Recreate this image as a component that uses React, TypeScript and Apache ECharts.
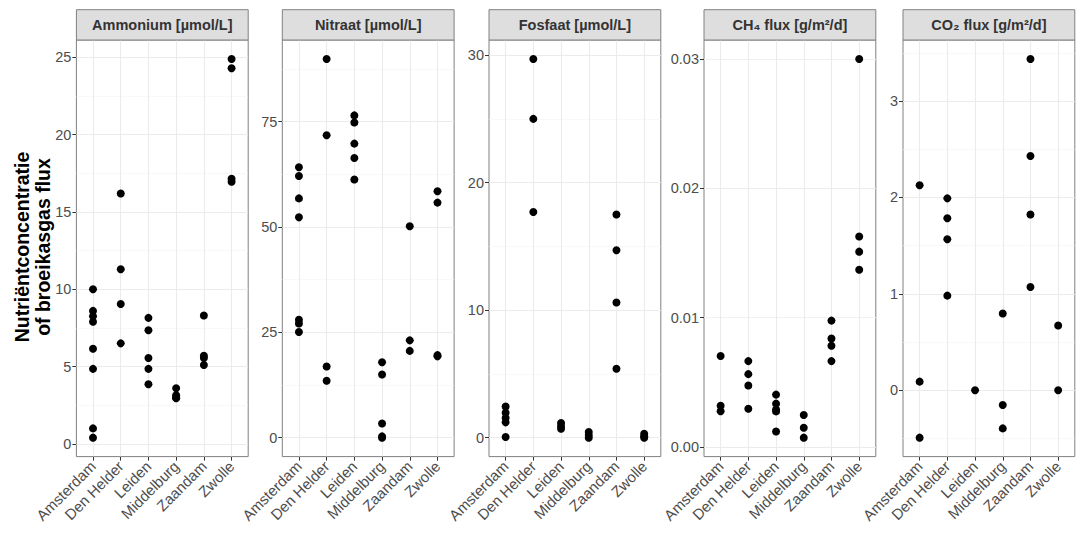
import React, { useEffect, useRef } from "react";
import * as echarts from "echarts";

const categories = ["Amsterdam", "Den Helder", "Leiden", "Middelburg", "Zaandam", "Zwolle"];

// values per category (same order as categories)
const ammonium = [
  [10.0, 8.6, 8.25, 7.9, 6.15, 4.85, 1.0, 0.4],
  [16.2, 11.3, 9.05, 6.5],
  [8.15, 7.35, 5.55, 4.85, 3.85],
  [3.6, 3.15, 3.0, 2.95],
  [8.3, 5.7, 5.55, 5.1],
  [24.9, 24.3, 17.15, 16.95],
];
const nitraat = [
  [64.2, 62.1, 56.8, 52.3, 28.0, 27.1, 25.1],
  [89.9, 71.8, 16.9, 13.5],
  [76.5, 74.8, 69.8, 66.4, 61.3],
  [17.9, 15.0, 3.35, 0.3, 0.0],
  [50.2, 23.1, 20.6],
  [58.5, 55.8, 19.6, 19.3],
];
const fosfaat = [
  [2.45, 1.95, 1.55, 1.2, 0.05],
  [29.7, 25.0, 17.7],
  [1.15, 0.9, 0.7],
  [0.45, 0.2, 0.0],
  [17.5, 14.7, 10.6, 5.4],
  [0.3, 0.12, 0.0],
];
const ch4 = [
  [0.00703, 0.00319, 0.00276],
  [0.00664, 0.00563, 0.00475, 0.00295],
  [0.00405, 0.00335, 0.0029, 0.00275, 0.0012],
  [0.00247, 0.00149, 0.00072],
  [0.00977, 0.00839, 0.00783, 0.00664],
  [0.03, 0.01627, 0.0151, 0.0137],
];
const co2 = [
  [2.126, 0.089, -0.492],
  [1.99, 1.784, 1.566, 0.981],
  [0.0],
  [0.796, -0.153, -0.396],
  [3.436, 2.43, 1.823, 1.07],
  [0.671, 0.0],
];

const titles = [
  "Ammonium [µmol/L]",
  "Nitraat [µmol/L]",
  "Fosfaat [µmol/L]",
  "CH₄ flux [g/m²/d]",
  "CO₂ flux [g/m²/d]",
];
const panelValues = [ammonium, nitraat, fosfaat, ch4, co2];
const majorTicks = [
  [0, 5, 10, 15, 20, 25],
  [0, 25, 50, 75],
  [0, 10, 20, 30],
  [0, 0.01, 0.02, 0.03],
  [0, 1, 2, 3],
];
const minorTicks = [
  [2.5, 7.5, 12.5, 17.5, 22.5],
  [12.5, 37.5, 62.5, 87.5],
  [5, 15, 25],
  [0.005, 0.015, 0.025],
  [-0.5, 0.5, 1.5, 2.5, 3.5],
];
const labelDecimals = [0, 0, 0, 2, 0];

const FONT = "'Liberation Sans', Arial, 'DejaVu Sans', sans-serif";

export default function App() {
  const ref = useRef<HTMLDivElement>(null);
  useEffect(() => {
    if (!ref.current) return;
    const chart = echarts.init(ref.current, undefined, { renderer: "svg" });

    const lefts = [76.4, 282.3, 489, 704, 903];
    const gw = 171.8;
    const top = 40;
    const gh = 416.6;
    const catIdx = categories.map((_, i) => i);

    const grids: any[] = [];
    const xAxes: any[] = [];
    const yAxes: any[] = [];
    const series: any[] = [];
    const graphics: any[] = [];

    panelValues.forEach((vals, p) => {
      const flat = vals.flat();
      const lo = Math.min(...flat);
      const hi = Math.max(...flat);
      const pad = (hi - lo) * 0.05;
      const yMin = lo - pad;
      const yMax = hi + pad;

      grids.push({
        left: lefts[p],
        top,
        width: gw,
        height: gh,
        show: true,
        borderColor: "#808080",
        borderWidth: 1,
        backgroundColor: "transparent",
      });
      xAxes.push({
        gridIndex: p,
        type: "value",
        min: -0.6,
        max: 5.6,
        axisLine: { show: false, onZero: false },
        splitLine: { show: false },
        axisTick: {
          show: true,
          customValues: catIdx,
          length: 4,
          lineStyle: { color: "#333333", width: 1 },
        },
        axisLabel: {
          customValues: catIdx,
          formatter: (v: number) => categories[Math.round(v)],
          rotate: 45,
          color: "#4D4D4D",
          fontSize: 15,
          fontFamily: FONT,
          margin: 7,
        },
      });
      yAxes.push({
        gridIndex: p,
        type: "value",
        min: yMin,
        max: yMax,
        axisLine: { show: false, onZero: false },
        splitLine: { show: false },
        axisTick: {
          show: true,
          customValues: majorTicks[p],
          length: 4,
          lineStyle: { color: "#333333", width: 1 },
        },
        axisLabel: {
          customValues: majorTicks[p],
          formatter: (v: number) => v.toFixed(labelDecimals[p]),
          color: "#4D4D4D",
          fontSize: 14.5,
          fontFamily: FONT,
          margin: 5,
        },
      });

      const gridLines: any[] = [];
      majorTicks[p].forEach((v) =>
        gridLines.push({ yAxis: v, lineStyle: { color: "#EBEBEB", width: 1.1, type: "solid" } })
      );
      minorTicks[p].forEach((v) =>
        gridLines.push({ yAxis: v, lineStyle: { color: "#F3F3F3", width: 0.6, type: "solid" } })
      );
      catIdx.forEach((v) =>
        gridLines.push({ xAxis: v, lineStyle: { color: "#EBEBEB", width: 1.1, type: "solid" } })
      );

      series.push({
        type: "scatter",
        xAxisIndex: p,
        yAxisIndex: p,
        data: [],
        z: 1,
        silent: true,
        markLine: {
          silent: true,
          symbol: ["none", "none"],
          label: { show: false },
          animation: false,
          data: gridLines,
        },
      });

      const pts: number[][] = [];
      vals.forEach((arr, i) => arr.forEach((v) => pts.push([i, v])));
      series.push({
        type: "scatter",
        xAxisIndex: p,
        yAxisIndex: p,
        data: pts,
        z: 5,
        symbol: "circle",
        symbolSize: 8,
        itemStyle: { color: "#000000", opacity: 1 },
        emphasis: { disabled: true },
      });

      graphics.push({
        type: "rect",
        shape: { x: lefts[p], y: 9.7, width: gw, height: 30.3 },
        style: { fill: "#DEDEDE", stroke: "#808080", lineWidth: 1 },
        z: 10,
      });
      graphics.push({
        type: "text",
        x: lefts[p] + gw / 2,
        y: 25,
        style: {
          text: titles[p],
          fill: "#333333",
          font: `bold 14.5px ${FONT}`,
          textAlign: "center",
          textVerticalAlign: "middle",
        },
        z: 11,
      });
    });

    graphics.push({
      type: "text",
      x: 32,
      y: 247,
      rotation: Math.PI / 2,
      style: {
        text: "Nutriëntconcentratie\nof broeikasgas flux",
        fill: "#000000",
        font: `bold 19.5px ${FONT}`,
        textAlign: "center",
        textVerticalAlign: "middle",
        lineHeight: 21,
      },
    });

    chart.setOption({
      animation: false,
      backgroundColor: "#ffffff",
      grid: grids,
      xAxis: xAxes,
      yAxis: yAxes,
      series,
      graphic: graphics,
    });
    return () => chart.dispose();
  }, []);

  return (
    <div
      ref={ref}
      style={{ position: "fixed", left: 0, top: 0, width: 1088, height: 544 }}
    />
  );
}
